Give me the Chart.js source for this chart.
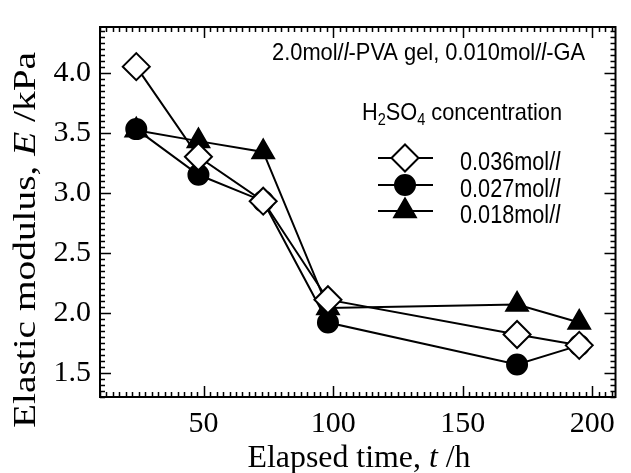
<!DOCTYPE html>
<html lang="en">
<head>
<meta charset="UTF-8">
<title>Elastic modulus vs elapsed time</title>
<script src="https://cdn.jsdelivr.net/npm/chart.js"></script>
<style>
  html, body { margin: 0; padding: 0; background: #fff; }
  #wrap { width: 631px; height: 473px; }
</style>
</head>
<body>
<div id="wrap"><canvas id="modChart" width="631" height="473"></canvas></div>
<script>
// values: elapsed time (h), elastic modulus (kPa)
const timeH = [24, 48, 73, 98, 171, 195];
const e036 = [4.05, 3.30, 2.93, 2.11, 1.82, 1.73];
const e027 = [3.53, 3.15, 2.93, 1.92, 1.57, 1.73];
const e018 = [3.52, 3.43, 3.34, 2.04, 2.07, 1.92];
const seriesLabels = ['0.036mol/', '0.027mol/', '0.018mol/'];
const xTicks = [50, 100, 150, 200];
const yTicks = [1.5, 2.0, 2.5, 3.0, 3.5, 4.0];

const SERIF = '"Liberation Serif", "Times New Roman", serif';
const SANS = '"Liberation Sans", Arial, sans-serif';

// marker looks, same order as the series
const looks = [
  { style: 'rectRot', r: 13.5, fill: '#fff' },
  { style: 'circle', r: 10, fill: '#000' },
  { style: 'triangle', r: 12.5, fill: '#000' }
];

function partFont(p, size, family) {
  const s = p.sub ? Math.round(size * 0.68) : size;
  return (p.it ? 'italic ' : '') + s + 'px ' + family;
}

// draws text made of pieces (italic / subscript), squeezed to a target width
function drawParts(ctx, parts, x, y, size, family, target, align, angle) {
  ctx.save();
  let w = 0;
  parts.forEach(p => {
    ctx.font = partFont(p, size, family);
    p.w = ctx.measureText(p.t).width;
    w += p.w;
  });
  const k = target ? target / w : 1;
  ctx.translate(x, y);
  if (angle) ctx.rotate(angle);
  ctx.scale(k, 1);
  let cx = align === 'center' ? -w / 2 : align === 'right' ? -w : 0;
  ctx.fillStyle = '#000';
  ctx.textAlign = 'left';
  ctx.textBaseline = 'alphabetic';
  parts.forEach(p => {
    ctx.font = partFont(p, size, family);
    ctx.fillText(p.t, cx, p.sub ? size * 0.22 : 0);
    cx += p.w;
  });
  ctx.restore();
}

function marker(ctx, look, x, y) {
  const r = look.r;
  ctx.beginPath();
  if (look.style === 'circle') {
    ctx.arc(x, y, r, 0, Math.PI * 2);
  } else if (look.style === 'rectRot') {
    ctx.moveTo(x - r, y); ctx.lineTo(x, y - r); ctx.lineTo(x + r, y); ctx.lineTo(x, y + r);
    ctx.closePath();
  } else {
    ctx.moveTo(x, y - r);
    ctx.lineTo(x + r * 0.866, y + r * 0.5);
    ctx.lineTo(x - r * 0.866, y + r * 0.5);
    ctx.closePath();
  }
  ctx.fillStyle = look.fill;
  ctx.fill();
  ctx.lineWidth = 2;
  ctx.strokeStyle = '#000';
  ctx.stroke();
}

const frameAndText = {
  id: 'frameAndText',
  beforeDatasetsDraw(chart) {
    const { ctx, chartArea: a, scales: { x, y } } = chart;
    ctx.save();
    ctx.strokeStyle = '#000';
    ctx.lineWidth = 2;
    ctx.strokeRect(a.left, a.top, a.right - a.left, a.bottom - a.top);
    ctx.lineWidth = 1.5;
    ctx.beginPath();
    // inward ticks, x every 2.5 h, y every 0.05 kPa
    for (let i = 4; i * 2.5 <= x.max; i++) {
      const v = i * 2.5;
      const px = Math.round(x.getPixelForValue(v)) + 0.5;
      const len = v % 50 === 0 ? 11 : 5;
      ctx.moveTo(px, a.bottom); ctx.lineTo(px, a.bottom - len);
      ctx.moveTo(px, a.top); ctx.lineTo(px, a.top + len);
    }
    for (let i = 26; i * 0.05 <= y.max + 1e-9; i++) {
      const v = i * 0.05;
      const py = Math.round(y.getPixelForValue(v)) + 0.5;
      const len = i % 10 === 0 ? 11 : 5;
      ctx.moveTo(a.left, py); ctx.lineTo(a.left + len, py);
      ctx.moveTo(a.right, py); ctx.lineTo(a.right - len, py);
    }
    ctx.stroke();
    ctx.restore();
  },
  afterDraw(chart) {
    const { ctx } = chart;
    // axis titles
    drawParts(ctx, [{ t: 'Elapsed time, ' }, { t: 't', it: true }, { t: ' /h' }],
      359, 467, 31, SERIF, 223, 'center');
    drawParts(ctx, [{ t: 'Elastic modulus, ' }, { t: 'E', it: true }, { t: ' /kPa' }],
      35, 240, 31, SERIF, 376, 'center', -Math.PI / 2);
    // annotation
    drawParts(ctx, [{ t: '2.0mol/' }, { t: 'l', it: true }, { t: '-PVA gel, 0.010mol/' }, { t: 'l', it: true }, { t: '-GA' }],
      585, 60, 24, SANS, 313, 'right');
    drawParts(ctx, [{ t: 'H' }, { t: '2', sub: true }, { t: 'SO' }, { t: '4', sub: true }, { t: ' concentration' }],
      362, 120, 24, SANS, 200, 'left');
    // legend
    const rows = [158, 185, 211];
    seriesLabels.forEach((lab, i) => {
      const ry = rows[i];
      ctx.save();
      ctx.strokeStyle = '#000';
      ctx.lineWidth = 2;
      ctx.beginPath();
      ctx.moveTo(378, ry); ctx.lineTo(433, ry);
      ctx.stroke();
      ctx.restore();
      marker(ctx, looks[i], 405, ry);
      drawParts(ctx, [{ t: lab }, { t: 'l', it: true }], 460, ry + 12, 25, SANS, 100, 'left');
    });
  }
};

function pts(vals) {
  return timeH.map((t, i) => ({ x: t, y: vals[i] }));
}

const datasets = [e036, e027, e018].map((vals, i) => ({
  label: seriesLabels[i] + 'l',
  data: pts(vals),
  borderColor: '#000',
  borderWidth: 2,
  backgroundColor: looks[i].fill,
  pointStyle: looks[i].style,
  pointRadius: looks[i].r,
  pointBackgroundColor: looks[i].fill,
  pointBorderColor: '#000',
  pointBorderWidth: 2,
  tension: 0,
  clip: false
}));

new Chart(document.getElementById('modChart'), {
  type: 'line',
  data: { datasets },
  options: {
    responsive: false,
    animation: false,
    devicePixelRatio: 1,
    layout: { padding: { left: 0, top: 15, right: 11, bottom: 0 } },
    plugins: { legend: { display: false }, tooltip: { enabled: false } },
    scales: {
      x: {
        type: 'linear',
        min: 10,
        max: 209,
        afterFit: s => { s.height = 76; },
        afterBuildTicks: s => { s.ticks = xTicks.map(v => ({ value: v })); },
        grid: { display: false, drawTicks: false },
        border: { display: false },
        ticks: {
          color: '#000',
          padding: 9,
          font: { family: SERIF, size: 30 },
          callback: v => String(v)
        }
      },
      y: {
        type: 'linear',
        min: 1.3,
        max: 4.38,
        afterFit: s => { s.width = 100; },
        afterBuildTicks: s => { s.ticks = yTicks.map(v => ({ value: v })); },
        grid: { display: false, drawTicks: false },
        border: { display: false },
        ticks: {
          color: '#000',
          padding: 9,
          font: { family: SERIF, size: 30 },
          callback: v => v.toFixed(1)
        }
      }
    }
  },
  plugins: [frameAndText]
});
</script>
</body>
</html>
